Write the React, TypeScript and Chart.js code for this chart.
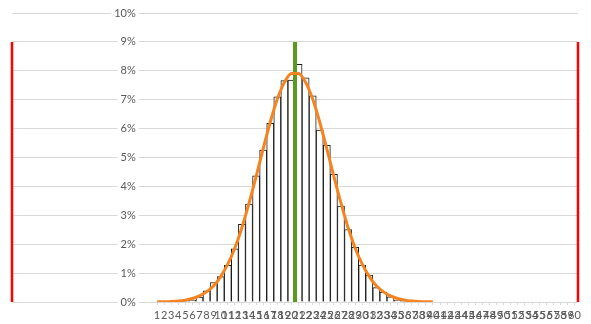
import React, { useEffect, useRef } from "react";
import { Chart, registerables } from "chart.js";

Chart.register(...registerables);

// Category axis labels (1..60)
const categories = [
  1, 2, 3, 4, 5, 6, 7, 8, 9, 10, 11, 12, 13, 14, 15, 16, 17, 18, 19, 20,
  21, 22, 23, 24, 25, 26, 27, 28, 29, 30, 31, 32, 33, 34, 35, 36, 37, 38, 39, 40,
  41, 42, 43, 44, 45, 46, 47, 48, 49, 50, 51, 52, 53, 54, 55, 56, 57, 58, 59, 60,
];

// Histogram frequencies (%) per category
const frequencies = [
  0, 0, 0, 0.01, 0.03, 0.07, 0.17, 0.39, 0.67, 0.88,
  1.27, 1.84, 2.69, 3.39, 4.37, 5.26, 6.18, 7.1, 7.66, 7.68,
  8.22, 7.76, 7.13, 5.95, 5.42, 4.42, 3.32, 2.51, 1.89, 1.28,
  0.93, 0.5, 0.34, 0.18, 0.07, 0.03, 0.01, 0, 0, 0,
  0, 0, 0, 0, 0, 0, 0, 0, 0, 0,
  0, 0, 0, 0, 0, 0, 0, 0, 0, 0,
];

// Fitted normal curve (%) for categories 1..40
const curveValues = [
  0.004, 0.008, 0.018, 0.035, 0.065, 0.12, 0.21, 0.35, 0.56, 0.88,
  1.31, 1.87, 2.58, 3.42, 4.34, 5.3, 6.22, 7.02, 7.6, 7.91,
  7.91, 7.6, 7.02, 6.22, 5.3, 4.34, 3.42, 2.58, 1.87, 1.31,
  0.88, 0.56, 0.35, 0.21, 0.12, 0.065, 0.035, 0.018, 0.008, 0.004,
];

// Marker lines (x position on category scale) and their height (%)
const lowerLimitX = -19.5;
const meanX = 20.5;
const upperLimitX = 60.5;
const markerTop = 9;

// Axis ranges
const xMin = -19.5;
const xMax = 60.5;
const yTicks = [0, 1, 2, 3, 4, 5, 6, 7, 8, 9, 10];
const yAxisCrossX = -2;

export default function App() {
  const ref = useRef<HTMLCanvasElement | null>(null);

  useEffect(() => {
    if (!ref.current) return;
    const font = { family: "Lato, 'Open Sans', sans-serif", size: 11 };
    const chart = new Chart(ref.current, {
      type: "line",
      data: {
        datasets: [
          {
            type: "line",
            label: "Normal",
            data: curveValues.map((v, i) => ({ x: categories[i], y: v })),
            borderColor: "#F5841F",
            borderWidth: 3,
            pointRadius: 0,
            cubicInterpolationMode: "monotone",
            order: 1,
          } as any,
          {
            type: "line",
            label: "Mean",
            data: [
              { x: meanX, y: 0 },
              { x: meanX, y: markerTop },
            ],
            borderColor: "#5A9A1E",
            borderWidth: 4,
            pointRadius: 0,
            order: 2,
          },
          {
            type: "line",
            label: "Lower",
            data: [
              { x: lowerLimitX, y: 0 },
              { x: lowerLimitX, y: markerTop },
            ],
            borderColor: "#FF0000",
            borderWidth: 2.5,
            pointRadius: 0,
            clip: false,
            order: 2,
          } as any,
          {
            type: "line",
            label: "Upper",
            data: [
              { x: upperLimitX, y: 0 },
              { x: upperLimitX, y: markerTop },
            ],
            borderColor: "#FF0000",
            borderWidth: 2.5,
            pointRadius: 0,
            clip: false,
            order: 2,
          } as any,
          {
            type: "bar",
            label: "Frequency",
            data: frequencies
              .map((v, i) => ({ x: categories[i], y: v }))
              .filter((p) => p.y > 0),
            backgroundColor: "#FFFFFF",
            borderColor: "#1A1A1A",
            borderWidth: 1,
            borderSkipped: "bottom",
            barPercentage: 1,
            categoryPercentage: 1,
            order: 3,
          } as any,
        ],
      },
      options: {
        animation: false,
        responsive: true,
        maintainAspectRatio: false,
        layout: { padding: { left: 12, right: 13, top: 13, bottom: 0 } },
        plugins: { legend: { display: false }, tooltip: { enabled: false } },
        scales: {
          x: {
            type: "linear",
            min: xMin,
            max: xMax,
            offset: false,
            grid: {
              display: true,
              offset: false,
              drawOnChartArea: false,
              drawTicks: true,
              tickLength: 3,
              color: "#D9D9D9",
            },
            border: { display: false },
            afterBuildTicks: (axis: any) => {
              axis.ticks = categories.map((v) => ({ value: v }));
            },
            afterFit: (axis: any) => {
              axis.height = 22;
            },
            ticks: {
              autoSkip: false,
              maxRotation: 0,
              minRotation: 0,
              padding: 4,
              color: "#595959",
              font,
              callback: (v: any) => String(v),
            },
          },
          y: {
            position: { x: yAxisCrossX } as any,
            min: 0,
            max: 10,
            afterBuildTicks: (axis: any) => {
              axis.ticks = yTicks.map((v) => ({ value: v }));
            },
            grid: { color: "#D9D9D9", lineWidth: 1, drawTicks: false },
            border: { display: false },
            ticks: {
              color: "#595959",
              font,
              padding: 0,
              showLabelBackdrop: true,
              backdropColor: "#FFFFFF",
              backdropPadding: { left: 3, right: 3, top: 0, bottom: 0 },
              callback: (v: any) => `${v}%`,
            } as any,
          },
        },
      },
    });
    return () => chart.destroy();
  }, []);

  return (
    <div style={{ position: "absolute", left: 0, top: 0, width: 591, height: 324, background: "#fff" }}>
      <canvas ref={ref} />
    </div>
  );
}
